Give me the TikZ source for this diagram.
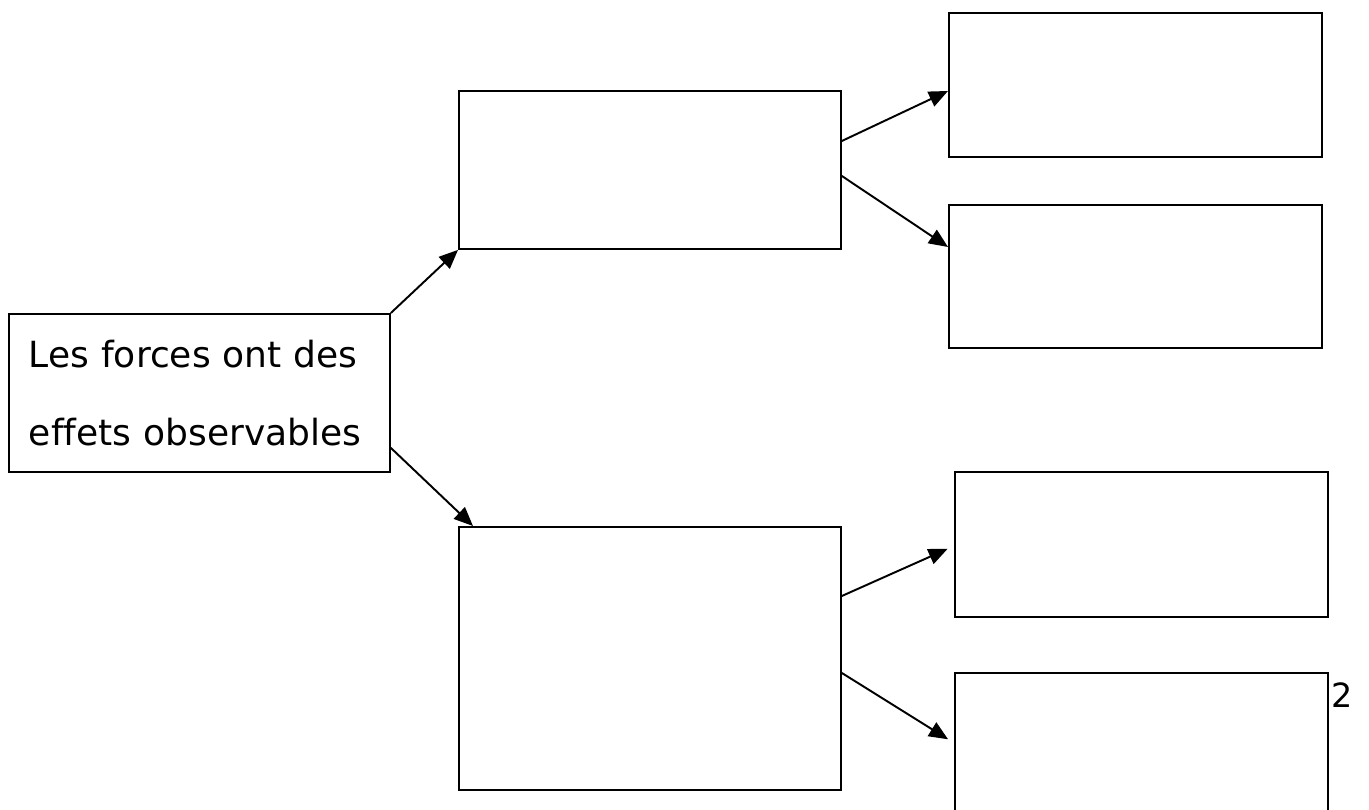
\documentclass[tikz,border=0pt]{standalone}
\usepackage{fontspec}
\setmainfont{DejaVu Sans}[Ligatures=NoCommon]
\usetikzlibrary{arrows.meta}

\begin{document}
\begin{tikzpicture}
            [x=0.02cm,y=-0.02cm,line width=1.1pt,
             every node/.style={draw,rectangle,anchor=north west,inner sep=0pt},
             >={Triangle[length=0.38cm,width=0.32cm]}]
            \path[use as bounding box,clip] (0,0) rectangle (1369,810);
            \node[align=left,text width=6.82cm,inner xsep=0.4cm,minimum height=3.16cm,
                  font=\fontsize{20.5}{44.4}\selectfont] (root) at (8,313)
                  {Les forces ont des\\ef\kern0pt fets observables};
            \node[minimum width=7.64cm,minimum height=3.16cm] (mid1) at (458,90) {};
            \node[minimum width=7.64cm,minimum height=5.26cm] (mid2) at (458,526) {};
            \node[minimum width=7.46cm,minimum height=2.88cm] (r1) at (948,12) {};
            \node[minimum width=7.46cm,minimum height=2.86cm] (r2) at (948,204) {};
            \node[minimum width=7.46cm,minimum height=2.9cm] (r3) at (954,471) {};
            \node[minimum width=7.46cm,minimum height=3.3cm] (r4) at (954,672) {};
            \node[draw=none,anchor=center,font=\fontsize{19}{22}\selectfont] (num) at (1342,695) {2};
            
            % root to middle
            \draw[->] (root.north east) -- (mid1.south west);
            \draw[->] ([yshift=0.5cm]root.south east) -- ([xshift=0.3cm]mid2.north west);
            % middle to right
            \draw[->] ([yshift=-1.02cm]mid1.north east) -- ([yshift=-1.58cm]r1.north west);
            \draw[->] ([yshift=-1.72cm]mid1.north east) -- ([yshift=-0.86cm]r2.north west);
            \draw[->,shorten >=0.14cm] ([yshift=-1.4cm]mid2.north east) -- ([yshift=-1.5cm]r3.north west);
            \draw[->,shorten >=0.14cm] ([yshift=-2.94cm]mid2.north east) -- ([yshift=-1.42cm]r4.north west);
        \end{tikzpicture}
\end{document}
